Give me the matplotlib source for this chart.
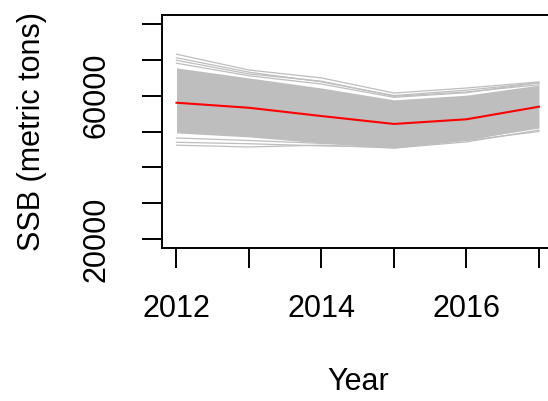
import numpy as np
import matplotlib
matplotlib.use("Agg")
import matplotlib.pyplot as plt

plt.rcParams['font.family'] = ['Liberation Sans', 'DejaVu Sans']

years = [2012, 2013, 2014, 2015, 2016, 2017]

# median SSB (red)
ssb_median = [58000, 56600, 54300, 52100, 53400, 56900]

# dense part of the simulated trajectories (grey band)
band_upper = [67700, 64900, 62100, 58800, 60100, 62900]
band_lower = [49600, 48500, 46800, 45400, 47600, 51200]

# a few stray trajectories outside the dense band
stray_upper = [
    [71500, 67100, 64900, 60700, 62100, 63800],
    [70500, 66500, 63800, 60000, 61500, 63500],
    [69800, 66000, 64000, 59800, 61000, 63000],
    [69000, 65500, 63200, 59500, 60800, 63600],
]
stray_lower = [
    [46200, 45700, 46200, 45400, 47100, 50400],
    [47000, 46600, 46000, 45700, 47500, 50000],
    [48200, 47500, 46700, 45900, 47800, 51000],
]

yticks = [20000, 30000, 40000, 50000, 60000, 70000, 80000]
ytick_labels = ['20000', '', '', '', '60000', '', '']
xtick_labels = ['2012', '', '2014', '', '2016', '']

grey = '#BEBEBE'

fig = plt.figure(figsize=(5.48, 4.01), dpi=100)
ax = fig.add_axes([0.2956, 0.3815, 0.7144, 0.5811])

ax.fill_between(years, band_lower, band_upper, color=grey, lw=0)
for s in stray_upper + stray_lower:
    ax.plot(years, s, color=grey, lw=0.9)
ax.plot(years, ssb_median, color='red', lw=1.5)

ax.set_xlim(2011.8, 2017.2)
ax.set_ylim(17600, 82400)

ax.set_xticks(years)
ax.set_xticklabels(xtick_labels)
ax.set_yticks(yticks)
ax.set_yticklabels(ytick_labels, rotation=90, va='center')

ax.tick_params(axis='both', length=14.4, width=1.4, labelsize=22, color='black')
ax.tick_params(axis='x', pad=19)
ax.tick_params(axis='y', pad=22)
for sp in ax.spines.values():
    sp.set_linewidth(1.4)
    sp.set_color('black')

ax.set_xlabel('Year', fontsize=22, labelpad=31)
ax.set_ylabel('SSB (metric tons)', fontsize=22, labelpad=25)

fig.savefig('out.png', dpi=100)
